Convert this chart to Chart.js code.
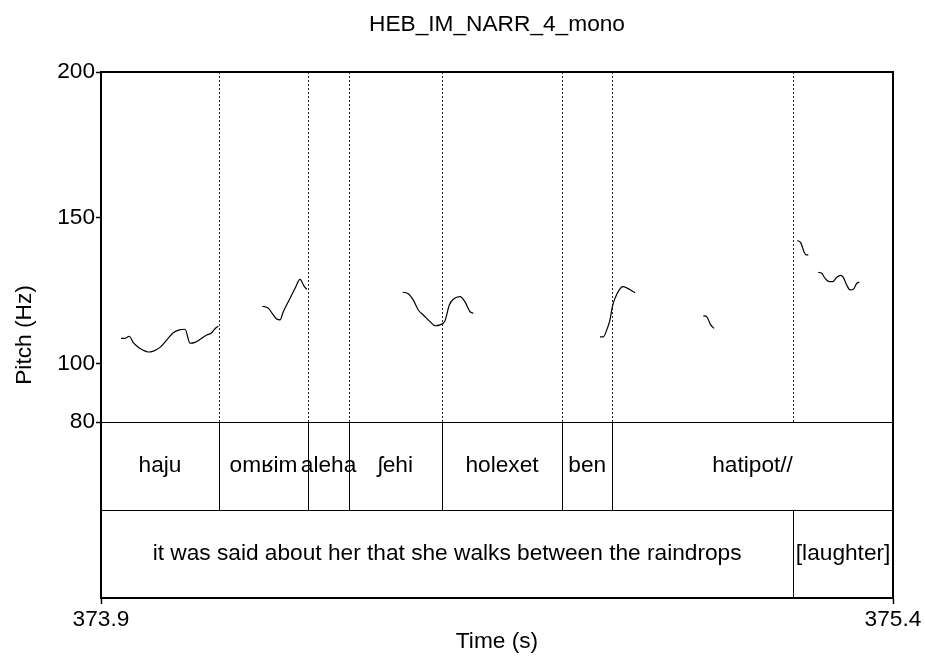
<!DOCTYPE html>
<html>
<head>
<meta charset="utf-8">
<script src="https://cdn.jsdelivr.net/npm/chart.js@4.4.1/dist/chart.umd.min.js"></script>
<style>
html,body{margin:0;padding:0;background:#fff;}
canvas{display:block;}
</style>
</head>
<body>
<canvas id="c" width="925" height="659"></canvas>
<script>
// ---- data ----
const chartTitle = "HEB_IM_NARR_4_mono";
const timeRange = [373.9, 375.4];
const xTicks = [373.9, 375.4];
const yTicks = [80, 100, 150, 200];
const pitchRange = [80, 200];

// pitch track (s, Hz); null = unvoiced gap
const pitchTimes = [
  373.9379, 373.9455, 373.9536, 373.9612, 373.9706, 373.9801, 373.9896, 373.9991, 374.0117, 374.0244,
  374.0369, 374.0483, 374.0591, 374.0686, 374.0780, 374.0907, 374.1002, 374.1083, 374.1178, 374.1222,
  374.16,
  374.2055, 374.2169, 374.2263, 374.2328, 374.2390, 374.2453, 374.2547, 374.2674, 374.2769, 374.2845, 374.2896,
  374.38,
  374.4714, 374.4820, 374.4915, 374.5009, 374.5104, 374.5231, 374.5326, 374.5420, 374.5515, 374.5597,
  374.5672, 374.5799, 374.5894, 374.5989, 374.6051,
  374.70,
  374.8451, 374.8513, 374.8589, 374.8640, 374.8684, 374.8735, 374.8816, 374.8881, 374.8956, 374.9051, 374.9114,
  374.98,
  375.0407, 375.0472, 375.0547, 375.0610,
  375.15,
  375.2188, 375.2252, 375.2314, 375.2352, 375.2396,
  375.25,
  375.2585, 375.2650, 375.2712, 375.2794, 375.2858, 375.2934, 375.3009, 375.3059, 375.3123, 375.3186,
  375.3248, 375.3313, 375.3362
];
const pitchHz = [
  108.7, 108.7, 109.4, 107.2, 105.6, 104.6, 104.0, 104.3, 105.6, 108.1,
  110.6, 111.6, 111.8, 107.0, 107.3, 108.7, 109.8, 110.4, 112.3, 112.8,
  null,
  119.7, 119.0, 116.7, 115.3, 115.0, 117.8, 121.2, 125.8, 128.9, 126.6, 125.5,
  null,
  124.5, 124.0, 121.8, 118.4, 116.7, 114.4, 113.0, 113.3, 114.7, 120.1,
  122.1, 123.0, 121.2, 117.8, 117.3,
  null,
  109.2, 109.2, 112.1, 115.0, 119.5, 122.4, 125.3, 126.4, 126.0, 125.0, 124.3,
  null,
  116.4, 116.1, 113.3, 112.1,
  null,
  142.2, 141.5, 138.4, 137.3, 137.3,
  null,
  131.3, 131.0, 129.3, 128.1, 128.1, 129.6, 130.3, 129.6, 127.0, 125.3,
  125.5, 127.5, 128.0
];

// TextGrid tiers
const wordBounds = [373.9, 374.1235, 374.292, 374.370, 374.545, 374.774, 374.868, 375.4];
const wordLabels = ["haju", "omʁim", "aleha", "ʃehi", "holexet", "ben", "hatipot//"];
const phraseBounds = [373.9, 375.211, 375.4];
const phraseLabels = ["it was said about her that she walks between the raindrops", "[laughter]"];

// ---- layout constants (not data) ----
const FONT = '"Liberation Sans", Arial, Helvetica, sans-serif';
const FS = 22.7;
const TIER_SPAN = 30.17;               // height of one tier, in pitch-axis units
const Y_MIN = pitchRange[0] - 2 * TIER_SPAN;

Chart.defaults.font.family = FONT;
Chart.defaults.font.size = FS;
Chart.defaults.color = '#000';

const points = pitchTimes.map((t, i) => ({ x: t, y: pitchHz[i] }));

const tierPlugin = {
  id: 'tiers',
  beforeDatasetsDraw(chart) {
    const { ctx, scales: { x, y } } = chart;
    const X = v => x.getPixelForValue(v);
    const Y = v => y.getPixelForValue(v);
    const yTop = Y(pitchRange[1]), yFloor = Y(pitchRange[0]);
    ctx.save();
    ctx.strokeStyle = '#222';
    ctx.lineWidth = 1;
    ctx.setLineDash([2, 2]);
    const dotted = wordBounds.slice(1, -1).concat(phraseBounds.slice(1, -1));
    dotted.forEach(t => {
      const px = Math.round(X(t)) + 0.5;
      ctx.beginPath();
      ctx.moveTo(px, yTop);
      ctx.lineTo(px, yFloor);
      ctx.stroke();
    });
    ctx.restore();
  },
  afterDatasetsDraw(chart) {
    const { ctx, scales: { x, y } } = chart;
    const X = v => x.getPixelForValue(v);
    const Y = v => y.getPixelForValue(v);
    const x0 = X(timeRange[0]), x1 = X(timeRange[1]);
    const yTop = Y(pitchRange[1]);
    const t1Top = Y(pitchRange[0]);
    const t2Top = Y(pitchRange[0] - TIER_SPAN);
    const t2Bot = Y(Y_MIN);
    ctx.save();
    ctx.strokeStyle = '#000';
    ctx.lineWidth = 1;
    [t1Top, t2Top].forEach(py => {
      const p = Math.round(py) + 0.5;
      ctx.beginPath(); ctx.moveTo(x0, p); ctx.lineTo(x1, p); ctx.stroke();
    });
    wordBounds.slice(1, -1).forEach(t => {
      const px = Math.round(X(t)) + 0.5;
      ctx.beginPath(); ctx.moveTo(px, t1Top); ctx.lineTo(px, t2Top); ctx.stroke();
    });
    phraseBounds.slice(1, -1).forEach(t => {
      const px = Math.round(X(t)) + 0.5;
      ctx.beginPath(); ctx.moveTo(px, t2Top); ctx.lineTo(px, t2Bot); ctx.stroke();
    });
    ctx.lineWidth = 2;
    ctx.beginPath();
    ctx.moveTo(x0, Math.round(yTop));
    ctx.lineTo(Math.round(x1), Math.round(yTop));
    ctx.lineTo(Math.round(x1), Math.round(t2Bot));
    ctx.stroke();
    ctx.fillStyle = '#000';
    ctx.font = FS + 'px ' + FONT;
    ctx.textAlign = 'center';
    ctx.textBaseline = 'middle';
    const yw = (t1Top + t2Top) / 2;
    wordLabels.forEach((lab, i) => {
      ctx.fillText(lab, (X(wordBounds[i]) + X(wordBounds[i + 1])) / 2, yw);
    });
    const yp = (t2Top + t2Bot) / 2;
    phraseLabels.forEach((lab, i) => {
      ctx.fillText(lab, (X(phraseBounds[i]) + X(phraseBounds[i + 1])) / 2, yp);
    });
    ctx.restore();
  }
};

new Chart(document.getElementById('c'), {
  type: 'line',
  data: {
    datasets: [{
      label: 'Pitch',
      data: points,
      borderColor: '#000',
      borderWidth: 1.2,
      pointRadius: 0,
      spanGaps: false,
      cubicInterpolationMode: 'monotone',
      fill: false
    }]
  },
  options: {
    responsive: false,
    animation: false,
    devicePixelRatio: 1,
    layout: { padding: { left: 0, right: 32, top: 0, bottom: 0 } },
    plugins: {
      legend: { display: false },
      tooltip: { enabled: false },
      title: {
        display: true,
        text: chartTitle,
        fullSize: false,
        font: { size: FS, weight: 'normal' },
        color: '#000',
        padding: { top: 11, bottom: 33.76 }
      }
    },
    scales: {
      x: {
        type: 'linear',
        min: timeRange[0],
        max: timeRange[1],
        afterBuildTicks: s => { s.ticks = xTicks.map(v => ({ value: v })); },
        afterFit: s => { s.height = 61; },
        ticks: {
          callback: v => Number(v).toFixed(1),
          maxRotation: 0,
          autoSkip: false,
          padding: 2,
          color: '#000',
          font: { size: FS }
        },
        grid: { drawOnChartArea: false, drawTicks: true, tickLength: 6, tickColor: '#000', tickWidth: 1.5 },
        border: { display: true, color: '#000', width: 2 },
        title: { display: true, text: 'Time (s)', color: '#000', font: { size: FS }, padding: { top: 0, bottom: 4 } }
      },
      y: {
        type: 'linear',
        min: Y_MIN,
        max: pitchRange[1],
        afterBuildTicks: s => { s.ticks = yTicks.map(v => ({ value: v })); },
        afterFit: s => { s.width = 101; },
        ticks: { padding: 1, color: '#000', font: { size: FS } },
        grid: { drawOnChartArea: false, drawTicks: true, tickLength: 5, tickColor: '#000', tickWidth: 1.5 },
        border: { display: true, color: '#000', width: 2 },
        title: { display: true, text: 'Pitch (Hz)', color: '#000', font: { size: FS }, padding: { top: 11, bottom: 0 } }
      }
    }
  },
  plugins: [tierPlugin]
});
</script>
</body>
</html>
